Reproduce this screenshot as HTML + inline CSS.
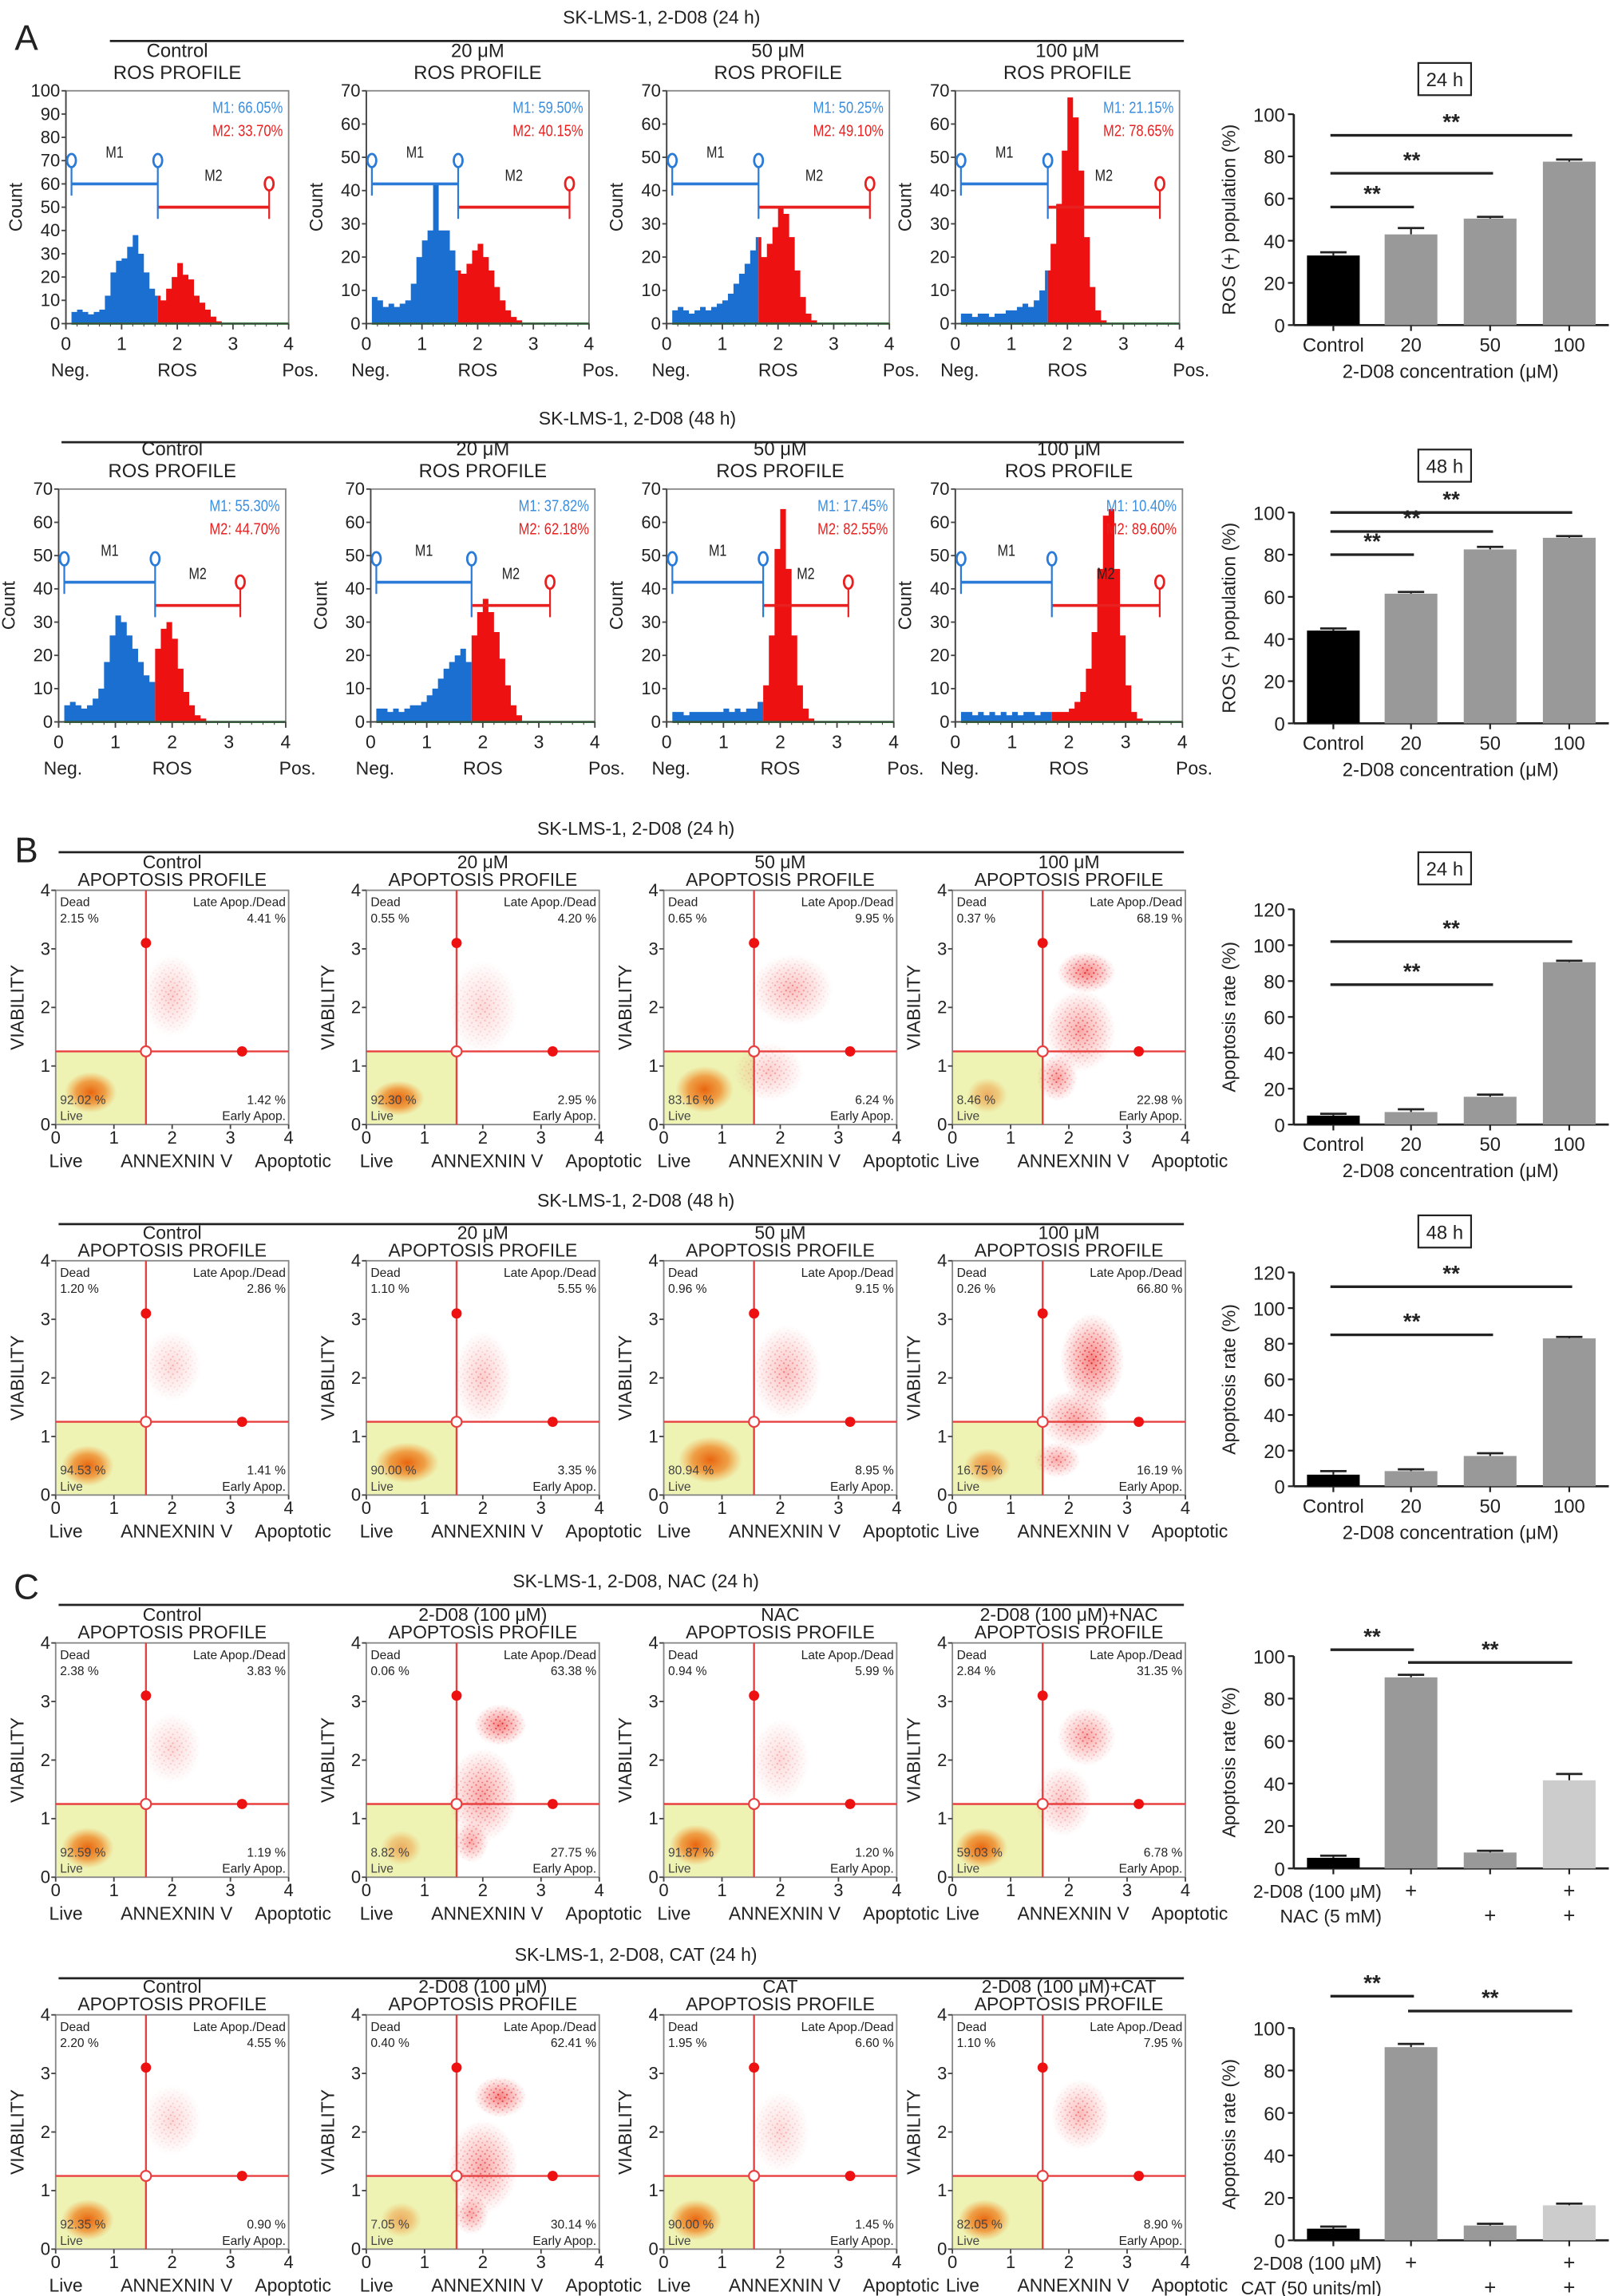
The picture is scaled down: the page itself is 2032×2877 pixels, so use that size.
<!DOCTYPE html>
<html><head><meta charset="utf-8">
<style>
html,body{margin:0;padding:0;background:#fff;}
svg{display:block;font-family:"Liberation Sans",Arial,sans-serif;}
</style></head>
<body>
<svg id="fig" width="2032" height="2877" viewBox="0 0 1107 1568" preserveAspectRatio="none" xmlns="http://www.w3.org/2000/svg">
<defs>
<radialGradient id="cl" cx="50%" cy="50%" r="50%">
<stop offset="0" stop-color="#e8650f" stop-opacity="1"/>
<stop offset="0.55" stop-color="#ef8a2a" stop-opacity="0.8"/>
<stop offset="1" stop-color="#f5a040" stop-opacity="0"/>
</radialGradient>
<radialGradient id="rc" cx="50%" cy="50%" r="50%">
<stop offset="0" stop-color="#ee2020" stop-opacity="0.55"/>
<stop offset="0.6" stop-color="#f04040" stop-opacity="0.25"/>
<stop offset="1" stop-color="#f06060" stop-opacity="0"/>
</radialGradient>
<radialGradient id="mg" cx="50%" cy="50%" r="50%">
<stop offset="0" stop-color="#fff"/>
<stop offset="1" stop-color="#000"/>
</radialGradient>
<mask id="rmask" maskContentUnits="objectBoundingBox"><rect x="0" y="0" width="1" height="1" fill="url(#mg)"/></mask>
<pattern id="dots" width="6" height="6" patternUnits="userSpaceOnUse">
<circle cx="1" cy="1" r="0.6" fill="#e81818"/><circle cx="4" cy="2.5" r="0.6" fill="#e81818"/><circle cx="2.5" cy="4.5" r="0.6" fill="#e81818"/><circle cx="5.2" cy="5.3" r="0.5" fill="#e81818"/>
</pattern>
</defs>
</svg>
<script>
// ---------- DATA ----------
const h24Control=[2,5,6,5,4,5,6,12,22,27,28,33,38,30,22,15,12,10,15,20,26,21,19,12,9,6,3,1];
const h24_20=[3,8,7,5,6,5,6,7,12,20,25,28,42,28,28,22,16,15,18,22,24,20,16,11,7,4,2,1];
const h24_50=[2,4,5,4,3,4,5,4,5,6,7,9,12,15,18,22,26,20,24,29,35,33,26,16,8,3,1];
const h24_100=[1,3,3,2,3,3,2,3,3,4,4,5,6,5,7,10,16,24,36,52,68,62,46,26,11,4,1];
const h48Control=[2,5,6,5,4,5,7,10,18,26,32,30,26,22,18,14,12,22,28,30,25,16,9,5,2,1];
const h48_20=[2,4,4,3,4,3,4,5,5,6,8,10,13,16,18,20,22,18,26,33,37,33,27,19,11,5,2];
const h48_50=[1,3,3,2,3,3,3,3,3,3,4,3,4,3,4,4,6,11,26,52,64,46,26,11,4,1];
const h48_100=[1,3,3,2,3,2,3,2,3,2,3,2,3,3,2,3,3,3,3,3,4,6,9,16,27,46,62,64,46,26,11,3,1];

const rosCats=['Control','20','50','100'];
const ros24Vals=[33,43,50.5,77.5];
const ros24Errs=[1.5,3,0.8,1];
const ros48Vals=[44,61.5,82.5,88];
const ros48Errs=[1,0.8,1.2,0.8];
const apo24Vals=[5,7,15.5,90.5];
const apo24Errs=[1,1.5,1.2,0.8];
const apo48Vals=[6.5,8.5,17,83];
const apo48Errs=[2,1,1.5,0.8];
const nacVals=[5,90,7.5,41.5];
const nacErrs=[1,1.2,0.8,3];
const catVals=[5.5,91,7,16.5];
const catErrs=[1,1.5,0.8,0.8];
const rosTicks=[0,20,40,60,80,100];
const apoTicks=[0,20,40,60,80,100,120];

// ---------- HELPERS ----------
const svg=document.getElementById('fig');
const NS='http://www.w3.org/2000/svg';
function nm(el,name){


return el;}
function mk(tag,a,parent){const e=document.createElementNS(NS,tag);for(const k in a)e.setAttribute(k,a[k]);(parent||svg).appendChild(e);return e;}
function tx(s,x,y,size,opt,name){opt=opt||{};const e=mk('text',{x:x,y:y,'font-size':size,'text-anchor':opt.anchor||'middle',fill:opt.fill||'#222'});
if(opt.rot)e.setAttribute('transform','rotate(-90 '+x+' '+y+')');
if(opt.weight)e.setAttribute('font-weight',opt.weight);
if(opt.sx){e.setAttribute('transform','translate('+x+' '+y+') scale('+opt.sx+' 1) translate('+(-x)+' '+(-y)+')');}
e.textContent=s;nm(e,name||'label');return e;}
function ln(x1,y1,x2,y2,st,w,name){const e=mk('line',{x1:x1,y1:y1,x2:x2,y2:y2,stroke:st||'#222','stroke-width':w||1});nm(e,name||'line');return e;}

// ---------- HEADERS ----------
function header(s,y,x1,x2){tx(s,(x1+x2)/2+10,y,12.5,{},'panel-header');ln(x1,y+12,x2,y+12,'#222',1.5,'header-rule');}
tx('A',18,34,24,{},'panel-letter-a');
tx('B',18,589,24,{},'panel-letter-b');
tx('C',18,1092,24,{},'panel-letter-c');
header('SK-LMS-1, 2-D08 (24 h)',16,75,808);
header('SK-LMS-1, 2-D08 (48 h)',290,42,808);
header('SK-LMS-1, 2-D08 (24 h)',570,40,808);
header('SK-LMS-1, 2-D08 (48 h)',824,40,808);
header('SK-LMS-1, 2-D08, NAC (24 h)',1084,40,808);
header('SK-LMS-1, 2-D08, CAT (24 h)',1339,40,808);

// ---------- HISTOGRAM ----------
function hist(c){
const g=mk('g',{});nm(g,'ros-histogram');
const sx=v=>c.x0+(c.x1-c.x0)*v/4, sy=v=>c.yb-(c.yb-c.yt)*v/c.ymax;
tx(c.t1,(c.x0+c.x1)/2,c.yt-23,13,{},'histogram-title');
tx('ROS PROFILE',(c.x0+c.x1)/2,c.yt-8,13,{},'histogram-subtitle');
const fr=mk('rect',{x:c.x0,y:c.yt,width:c.x1-c.x0,height:c.yb-c.yt,fill:'none',stroke:'#888','stroke-width':1});nm(fr,'plot-frame');
function area(from,to,col,name){let d='M'+sx(from)+','+sy(0);
for(let i=0;i<40;i++){const xa=i*0.1,xb=xa+0.1;if(xb<=from||xa>=to)continue;const v=c.bins[i]||0;
d+=' L'+sx(Math.max(xa,from))+','+sy(v)+' L'+sx(Math.min(xb,to))+','+sy(v);}
d+=' L'+sx(to)+','+sy(0)+' Z';const p=mk('path',{d:d,fill:col,stroke:'none'});nm(p,name);}
area(0.1,c.gate,'#1a6fd0','histogram-m1-fill');
area(c.gate,4,'#ee1111','histogram-m2-fill');
ln(sx(0.1),sy(0),c.x1,sy(0),'#1a8a2a',1.5,'baseline');
ln(c.x0,c.yt,c.x0,c.yb+3,'#444',1,'y-axis');ln(c.x0,c.yb,c.x1,c.yb,'#444',1,'x-axis');
for(let v=0;v<=c.ymax;v+=10){ln(c.x0-3,sy(v),c.x0,sy(v),'#444',1,'y-tick');tx(String(v),c.x0-4,sy(v)+4,12,{anchor:'end'},'y-tick-label');}
for(let v=0;v<=4;v++){ln(sx(v),c.yb,sx(v),c.yb+4,'#444',1,'x-tick');tx(String(v),sx(v),c.yb+18,12.5,{},'x-tick-label');}
for(let v=0.2;v<4;v+=0.2){ln(sx(v),c.yb,sx(v),c.yb+2,'#444',0.6,'x-minor-tick');}
tx('Neg.',c.x0+3,c.yb+36,12.5,{},'axis-neg-label');tx('ROS',(c.x0+c.x1)/2,c.yb+36,12.5,{},'x-axis-title');tx('Pos.',c.x1+8,c.yb+36,12.5,{},'axis-pos-label');
tx('Count',c.x0-30,(c.yt+c.yb)/2,12.5,{rot:1},'y-axis-title');
const blue='#2a7ad8',red='#e82020';
ln(sx(0.1),sy(c.m1),sx(c.gate),sy(c.m1),blue,2,'m1-gate-bar');
ln(sx(c.gate),sy(c.m2),sx(c.m2end),sy(c.m2),red,2,'m2-gate-bar');
ln(sx(0.1),sy(c.m1)-14,sx(0.1),sy(c.m1)+8,blue,1.2,'m1-start');
ln(sx(c.gate),sy(c.m1)-14,sx(c.gate),sy(c.m2)+8,blue,1.2,'m1-end');
ln(sx(c.m2end),sy(c.m2)-12,sx(c.m2end),sy(c.m2)+8,red,1.2,'m2-end');
[[0.1,c.m1,blue],[c.gate,c.m1,blue],[c.m2end,c.m2,red]].forEach(m=>{const e=mk('ellipse',{cx:sx(m[0]),cy:sy(m[1])-16,rx:3,ry:4.5,fill:'#fff',stroke:m[2],'stroke-width':1.5});nm(e,'gate-marker');});
tx('M1',(sx(0.1)+sx(c.gate))/2,sy(c.m1)-18,11,{sx:0.8},'m1-label');
tx('M2',(sx(c.gate)+sx(c.m2end))/2,sy(c.m2)-18,11,{sx:0.8},'m2-label');
tx('M1: '+c.p1,c.x1-4,c.yt+15,11,{anchor:'end',fill:'#3a8ee0',sx:0.82},'m1-percent');
tx('M2: '+c.p2,c.x1-4,c.yt+31,11,{anchor:'end',fill:'#e82020',sx:0.82},'m2-percent');
}
hist({x0:45,x1:197,yt:62,yb:221,ymax:100,bins:h24Control,gate:1.65,m1:60,m2:50,m2end:3.65,p1:'66.05%',p2:'33.70%',t1:'Control'});
hist({x0:250,x1:402,yt:62,yb:221,ymax:70,bins:h24_20,gate:1.65,m1:42,m2:35,m2end:3.65,p1:'59.50%',p2:'40.15%',t1:'20 μM'});
hist({x0:455,x1:607,yt:62,yb:221,ymax:70,bins:h24_50,gate:1.65,m1:42,m2:35,m2end:3.65,p1:'50.25%',p2:'49.10%',t1:'50 μM'});
hist({x0:652,x1:805,yt:62,yb:221,ymax:70,bins:h24_100,gate:1.65,m1:42,m2:35,m2end:3.65,p1:'21.15%',p2:'78.65%',t1:'100 μM'});
hist({x0:40,x1:195,yt:334,yb:493,ymax:70,bins:h48Control,gate:1.7,m1:42,m2:35,m2end:3.2,p1:'55.30%',p2:'44.70%',t1:'Control'});
hist({x0:253,x1:406,yt:334,yb:493,ymax:70,bins:h48_20,gate:1.8,m1:42,m2:35,m2end:3.2,p1:'37.82%',p2:'62.18%',t1:'20 μM'});
hist({x0:455,x1:610,yt:334,yb:493,ymax:70,bins:h48_50,gate:1.7,m1:42,m2:35,m2end:3.2,p1:'17.45%',p2:'82.55%',t1:'50 μM'});
hist({x0:652,x1:807,yt:334,yb:493,ymax:70,bins:h48_100,gate:1.7,m1:42,m2:35,m2end:3.6,p1:'10.40%',p2:'89.60%',t1:'100 μM'});

// ---------- SCATTER ----------
const sB24=[[[0.6,0.55,0.45,0.35,1,'o'],[2.0,2.2,0.5,0.7,0.35,'r']],[[0.55,0.45,0.45,0.3,1,'o'],[2,2,0.6,0.8,0.3,'r']],[[0.7,0.6,0.5,0.4,1,'o'],[2.2,2.3,0.7,0.6,0.5,'r'],[1.8,0.9,0.6,0.5,0.4,'r']],[[0.6,0.5,0.35,0.3,0.5,'o'],[2.3,2.6,0.5,0.35,1,'r'],[2.2,1.6,0.6,0.7,0.7,'r'],[1.8,0.8,0.35,0.4,0.8,'r']]];
const sB48=[[[0.55,0.5,0.45,0.35,1,'o'],[2,2.2,0.5,0.6,0.3,'r']],[[0.7,0.55,0.55,0.35,1,'o'],[2.0,2.0,0.5,0.8,0.4,'r']],[[0.8,0.6,0.55,0.4,1,'o'],[2.1,2.1,0.6,0.8,0.5,'r']],[[0.6,0.5,0.4,0.3,0.7,'o'],[2.4,2.3,0.55,0.8,1,'r'],[2.1,1.3,0.6,0.5,0.7,'r'],[1.8,0.6,0.4,0.3,0.7,'r']]];
const sNAC=[[[0.55,0.5,0.45,0.35,1,'o'],[2,2.2,0.5,0.6,0.3,'r']],[[0.6,0.5,0.35,0.3,0.5,'o'],[2.3,2.6,0.45,0.35,1,'r'],[2.0,1.4,0.6,0.8,0.7,'r'],[1.8,0.6,0.3,0.35,0.7,'r']],[[0.55,0.55,0.45,0.35,1,'o'],[2,2,0.5,0.7,0.3,'r']],[[0.5,0.5,0.45,0.35,1,'o'],[2.3,2.4,0.5,0.5,0.7,'r'],[1.9,1.3,0.5,0.6,0.5,'r']]];
const sCAT=[[[0.55,0.5,0.45,0.35,1,'o'],[2,2.2,0.5,0.6,0.3,'r']],[[0.6,0.5,0.35,0.3,0.5,'o'],[2.3,2.6,0.45,0.35,1,'r'],[2.0,1.4,0.6,0.8,0.7,'r'],[1.8,0.6,0.3,0.35,0.7,'r']],[[0.55,0.5,0.45,0.35,1,'o'],[2,2,0.5,0.7,0.3,'r']],[[0.55,0.5,0.45,0.35,1,'o'],[2.2,2.3,0.5,0.6,0.55,'r']]];
const pB24=[['2.15 %','4.41 %','92.02 %','1.42 %'],['0.55 %','4.20 %','92.30 %','2.95 %'],['0.65 %','9.95 %','83.16 %','6.24 %'],['0.37 %','68.19 %','8.46 %','22.98 %']];
const pB48=[['1.20 %','2.86 %','94.53 %','1.41 %'],['1.10 %','5.55 %','90.00 %','3.35 %'],['0.96 %','9.15 %','80.94 %','8.95 %'],['0.26 %','66.80 %','16.75 %','16.19 %']];
const pNAC=[['2.38 %','3.83 %','92.59 %','1.19 %'],['0.06 %','63.38 %','8.82 %','27.75 %'],['0.94 %','5.99 %','91.87 %','1.20 %'],['2.84 %','31.35 %','59.03 %','6.78 %']];
const pCAT=[['2.20 %','4.55 %','92.35 %','0.90 %'],['0.40 %','62.41 %','7.05 %','30.14 %'],['1.95 %','6.60 %','90.00 %','1.45 %'],['1.10 %','7.95 %','82.05 %','8.90 %']];
const tB=['Control','20 μM','50 μM','100 μM'];
const tNAC=['Control','2-D08 (100 μM)','NAC','2-D08 (100 μM)+NAC'];
const tCAT=['Control','2-D08 (100 μM)','CAT','2-D08 (100 μM)+CAT'];
const sxs=[[38,197],[250,409],[453,612],[650,809]];
function scatter(x0,x1,yt,yb,clusters,pct,title){
const sx=v=>x0+(x1-x0)*v/4, sy=v=>yb-(yb-yt)*v/4;
const qx=1.55,qy=1.25;
tx(title,(x0+x1)/2,yt-15,12.5,{},'scatter-title');
tx('APOPTOSIS PROFILE',(x0+x1)/2,yt-3,12.5,{},'scatter-subtitle');
const y=mk('rect',{x:x0,y:sy(qy),width:sx(qx)-x0,height:yb-sy(qy),fill:'#eef3b4'});nm(y,'live-quadrant-fill');
clusters.forEach(c=>{const a={cx:sx(c[0]),cy:sy(c[1]),rx:(x1-x0)*c[2]/4,ry:(yb-yt)*c[3]/4};
if(c[5]==='o'){const e=mk('ellipse',Object.assign({fill:'url(#cl)',opacity:c[4]},a));nm(e,'cell-cluster');}
else{const e=mk('ellipse',Object.assign({fill:'url(#rc)',opacity:c[4]},a));nm(e,'cell-cluster');
const d=mk('ellipse',Object.assign({fill:'url(#dots)',mask:'url(#rmask)',opacity:c[4]},a));nm(d,'cell-cluster-points');}});
const fr=mk('rect',{x:x0,y:yt,width:x1-x0,height:yb-yt,fill:'none',stroke:'#888','stroke-width':1});nm(fr,'plot-frame');
ln(sx(qx),yt,sx(qx),yb,'#e84040',1.3,'quadrant-vertical');ln(x0,sy(qy),x1,sy(qy),'#e84040',1.3,'quadrant-horizontal');
let d=mk('circle',{cx:sx(qx),cy:sy(3.1),r:3.5,fill:'#ee1111'});nm(d,'quadrant-handle');
d=mk('circle',{cx:sx(3.2),cy:sy(qy),r:3.5,fill:'#ee1111'});nm(d,'quadrant-handle');
d=mk('circle',{cx:sx(qx),cy:sy(qy),r:3.5,fill:'#fff',stroke:'#e84040','stroke-width':1.2});nm(d,'quadrant-center');
for(let v=0;v<=4;v++){tx(String(v),x0-7,sy(v)+4,12,{},'y-tick-label');tx(String(v),sx(v),yb+13,12,{},'x-tick-label');ln(sx(v),yb,sx(v),yb+3,'#444',1,'x-tick');ln(x0-3,sy(v),x0,sy(v),'#444',1,'y-tick');}
tx('Live',x0+7,yb+29,12.5,{},'axis-live-label');tx('ANNEXNIN V',(x0+x1)/2+3,yb+29,12.5,{},'x-axis-title');tx('Apoptotic',x1+3,yb+29,12.5,{},'axis-apoptotic-label');
tx('VIABILITY',x0-22,(yt+yb)/2,12.5,{rot:1},'y-axis-title');
tx('Dead',x0+3,yt+11,8.5,{anchor:'start'},'dead-label');tx(pct[0],x0+3,yt+22,8.5,{anchor:'start'},'dead-percent');
tx('Late Apop./Dead',x1-2,yt+11,8.5,{anchor:'end'},'late-label');tx(pct[1],x1-2,yt+22,8.5,{anchor:'end'},'late-percent');
tx(pct[2],x0+3,yb-14,8.5,{anchor:'start',fill:'#444'},'live-percent');tx('Live',x0+3,yb-3,8.5,{anchor:'start',fill:'#444'},'live-label');
tx(pct[3],x1-2,yb-14,8.5,{anchor:'end'},'early-percent');tx('Early Apop.',x1-2,yb-3,8.5,{anchor:'end'},'early-label');
}
for(let i=0;i<4;i++){
scatter(sxs[i][0],sxs[i][1],608,768,sB24[i],pB24[i],tB[i]);
scatter(sxs[i][0],sxs[i][1],861,1021,sB48[i],pB48[i],tB[i]);
scatter(sxs[i][0],sxs[i][1],1122,1282,sNAC[i],pNAC[i],tNAC[i]);
scatter(sxs[i][0],sxs[i][1],1376,1536,sCAT[i],pCAT[i],tCAT[i]);}

// ---------- BAR CHARTS ----------
const barCx=[910,963,1017,1071];
function bars(c){
const sy=v=>c.y0-(c.y0-c.yt)*v/c.ymax;
const ax=883,xr=1098,bw=36;
ln(ax,sy(c.ymax),ax,c.y0,'#222',1.5,'bar-y-axis');ln(ax,c.y0,xr,c.y0,'#222',1.5,'bar-x-axis');
c.ticks.forEach(t=>{ln(ax-4,sy(t),ax,sy(t),'#222',1.2,'bar-y-tick');tx(String(t),ax-6,sy(t)+5,13,{anchor:'end'},'bar-y-tick-label');});
c.vals.forEach((v,i)=>{const cx=barCx[i];
ln(cx,sy(v),cx,sy(v+c.errs[i]),'#222',1.2,'error-bar');ln(cx-9,sy(v+c.errs[i]),cx+9,sy(v+c.errs[i]),'#222',1.5,'error-cap');
const r=mk('rect',{x:cx-bw/2,y:sy(v),width:bw,height:c.y0-sy(v),fill:c.cols[i]});nm(r,'bar-'+i);
ln(cx,c.y0,cx,c.y0+4,'#222',1.2,'bar-x-tick');});
if(c.cats)c.cats.forEach((s,i)=>tx(s,barCx[i],c.y0+18,13,{},'bar-x-tick-label'));
if(c.xlab)tx(c.xlab,990,c.y0+36,13,{},'bar-x-axis-title');
tx(c.ylab,ax-40,(c.y0+sy(c.ymax))/2,12.5,{rot:1},'bar-y-axis-title');
if(c.box){const b=mk('rect',{x:968,y:c.boxY,width:36,height:22,fill:'none',stroke:'#222','stroke-width':1.2});nm(b,'time-box');tx(c.box,986,c.boxY+16,13,{},'time-label');}
c.sig.forEach(s=>{ln(barCx[s[0]]-2,sy(s[2]),barCx[s[1]]+2,sy(s[2]),'#222',1.8,'significance-bar');tx('**',(barCx[s[0]]+barCx[s[1]])/2,sy(s[2])-4,15,{weight:'bold'},'significance-stars');});
}
bars({y0:222,yt:78,ymax:100,ticks:rosTicks,vals:ros24Vals,errs:ros24Errs,cols:['#000','#999','#999','#999'],cats:rosCats,xlab:'2-D08 concentration (μM)',ylab:'ROS (+) population (%)',box:'24 h',boxY:43,sig:[[0,1,56],[0,2,72],[0,3,90]]});
bars({y0:494,yt:350,ymax:100,ticks:rosTicks,vals:ros48Vals,errs:ros48Errs,cols:['#000','#999','#999','#999'],cats:rosCats,xlab:'2-D08 concentration (μM)',ylab:'ROS (+) population (%)',box:'48 h',boxY:307,sig:[[0,1,80],[0,2,91],[0,3,100]]});
bars({y0:768,yt:621,ymax:120,ticks:apoTicks,vals:apo24Vals,errs:apo24Errs,cols:['#000','#999','#999','#999'],cats:rosCats,xlab:'2-D08 concentration (μM)',ylab:'Apoptosis rate (%)',box:'24 h',boxY:582,sig:[[0,2,78],[0,3,102]]});
bars({y0:1015,yt:869,ymax:120,ticks:apoTicks,vals:apo48Vals,errs:apo48Errs,cols:['#000','#999','#999','#999'],cats:rosCats,xlab:'2-D08 concentration (μM)',ylab:'Apoptosis rate (%)',box:'48 h',boxY:830,sig:[[0,2,85],[0,3,112]]});
bars({y0:1276,yt:1131,ymax:100,ticks:rosTicks,vals:nacVals,errs:nacErrs,cols:['#000','#999','#999','#ccc'],ylab:'Apoptosis rate (%)',sig:[[0,1,103],[1,3,97]]});
bars({y0:1530,yt:1385,ymax:100,ticks:rosTicks,vals:catVals,errs:catErrs,cols:['#000','#999','#999','#ccc'],ylab:'Apoptosis rate (%)',sig:[[0,1,115],[1,3,108]]});
const trtA=['','+','','+'],trtB=['','','+','+'];
function trt(y,l1,l2){tx(l1,943,y,12.5,{anchor:'end'},'treatment-label');tx(l2,943,y+17,12.5,{anchor:'end'},'treatment-label');
trtA.forEach((s,i)=>{if(s)tx(s,barCx[i],y,14,{},'treatment-plus');});trtB.forEach((s,i)=>{if(s)tx(s,barCx[i],y+17,14,{},'treatment-plus');});}
trt(1296,'2-D08 (100 μM)','NAC (5 mM)');
trt(1550,'2-D08 (100 μM)','CAT (50 units/ml)');
</script>
</body></html>
